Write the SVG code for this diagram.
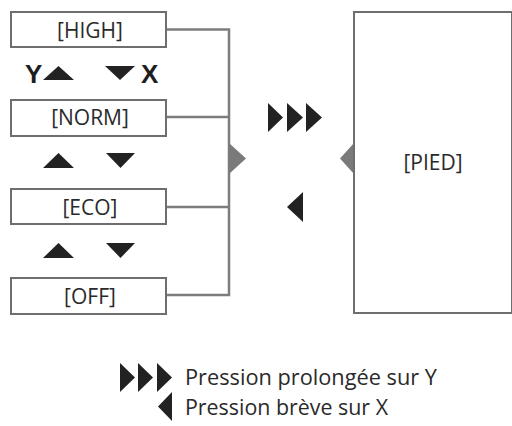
<svg xmlns="http://www.w3.org/2000/svg" width="512" height="426" viewBox="0 0 512 426">
<style>
.box{fill:#fff;stroke:#6e6e6e;stroke-width:2}
.lbl{font-family:"Open Sans","Noto Sans",sans-serif;font-size:21px;fill:#2a2a2a;text-anchor:middle}
.leg{font-family:"Open Sans","Noto Sans",sans-serif;font-size:21px;fill:#2a2a2a}
.key{font-family:"Liberation Sans",Arial,sans-serif;font-size:26px;font-weight:bold;fill:#1e1e1e}
.blk{fill:#222}
.gry{fill:#7a7a7a}
.ln{stroke:#7d7d7d;stroke-width:2.5;fill:none}
</style>
<rect width="512" height="426" fill="#fff"/>
<g id="connectors">
<polyline class="ln" points="166,29.5 229,29.5 229,295 166,295"/>
<line class="ln" x1="166" y1="117" x2="229" y2="117" stroke-width="1.5"/>
<line class="ln" x1="166" y1="207" x2="229" y2="207"/>
<polygon class="gry" points="229,143 229,174 246,158.5"/>
<polygon class="gry" points="354,143 354,174 340,158.5"/>
</g>
<g id="high"><rect class="box" x="11" y="12" width="155" height="35"/><text class="lbl" x="90" y="38">[HIGH]</text></g>
<g id="norm"><rect class="box" x="11" y="100" width="155" height="36"/><text class="lbl" x="90" y="125">[NORM]</text></g>
<g id="eco"><rect class="box" x="11" y="189" width="155" height="35"/><text class="lbl" x="90" y="215">[ECO]</text></g>
<g id="off"><rect class="box" x="11" y="278" width="155" height="36"/><text class="lbl" x="90" y="304">[OFF]</text></g>
<g id="pied"><rect class="box" x="354" y="12" width="158" height="301"/><text class="lbl" x="433" y="170">[PIED]</text></g>
<g id="keys">
<text class="key" x="25" y="83">Y</text>
<polygon class="blk" points="43,80 74,80 58.5,66"/>
<polygon class="blk" points="105,66 135,66 120,80"/>
<text class="key" x="141" y="83">X</text>
<polygon class="blk" points="43,168 74,168 58.5,153"/>
<polygon class="blk" points="106,153 135,153 120.5,168"/>
<polygon class="blk" points="43,258 74,258 58.5,243"/>
<polygon class="blk" points="106,243 135,243 120.5,258"/>
</g>
<g id="actions">
<polygon class="blk" points="268,103 268,132 283,117.5"/>
<polygon class="blk" points="287,103 287,132 303,117.5"/>
<polygon class="blk" points="306,103 306,132 322,117.5"/>
<polygon class="blk" points="303,192 303,222 287,207"/>
</g>
<g id="legend">
<polygon class="blk" points="120,363 120,392 135,377.5"/>
<polygon class="blk" points="138,363 138,392 153,377.5"/>
<polygon class="blk" points="157,363 157,392 172,377.5"/>
<text class="leg" x="185" y="385" textLength="252" lengthAdjust="spacingAndGlyphs">Pression prolongée sur Y</text>
<polygon class="blk" points="172,392 172,421 158,406.5"/>
<text class="leg" x="185" y="415" textLength="203" lengthAdjust="spacingAndGlyphs">Pression brève sur X</text>
</g>
</svg>
